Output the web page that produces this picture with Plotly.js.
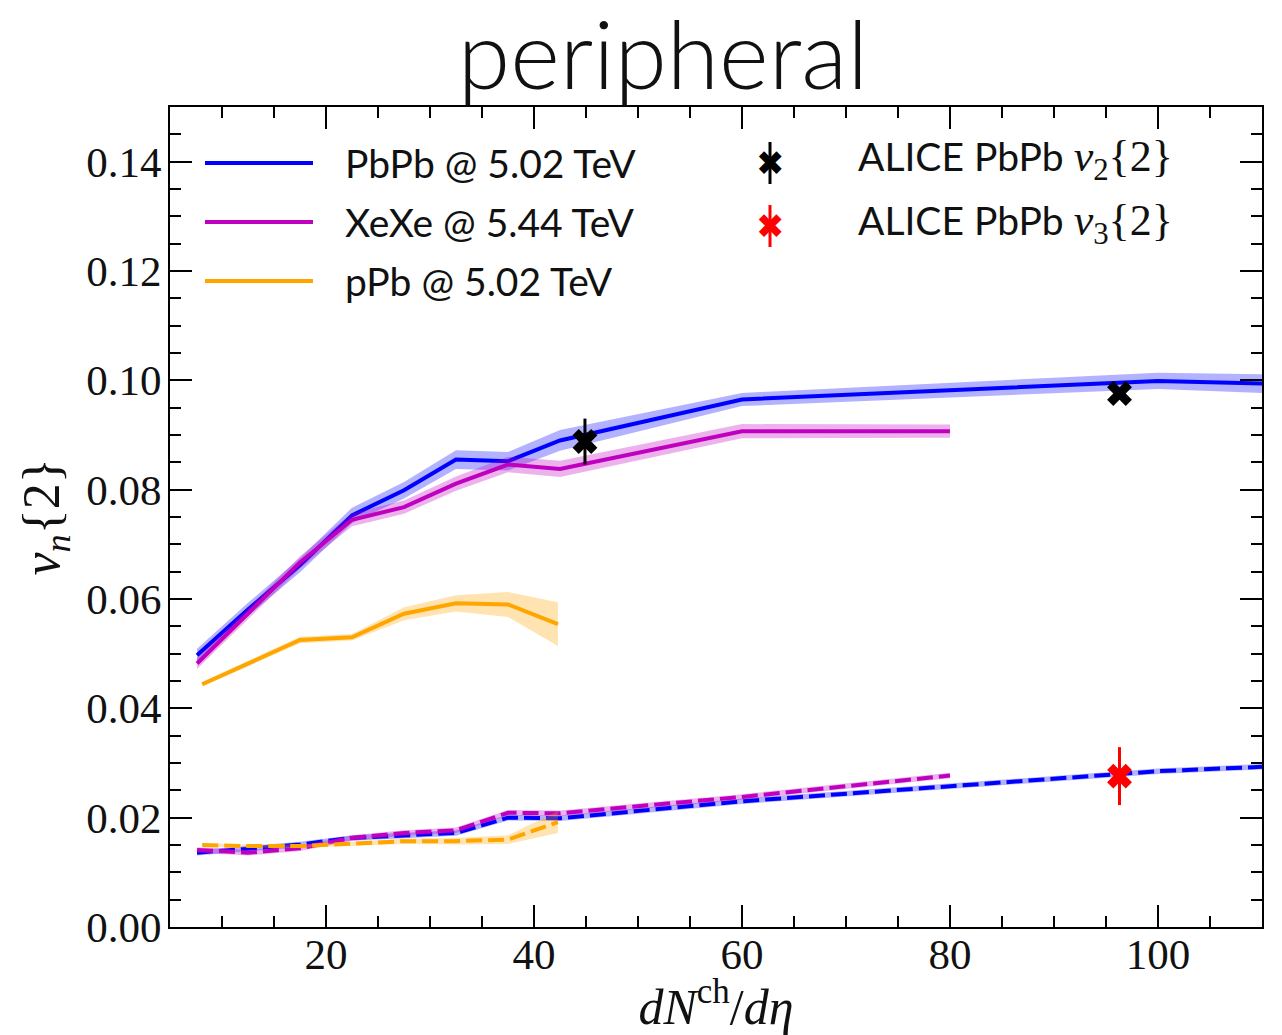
<!DOCTYPE html>
<html>
<head>
<meta charset="utf-8">
<script src="https://cdn.plot.ly/plotly-3.0.1.min.js"></script>
<style>html,body{margin:0;padding:0;background:#fff;}</style>
</head>
<body>
<div id="chart" style="width:1282px;height:1035px;"></div>
<script>
// ---- data ----
const xPbPb = [7.6, 12.5, 17.5, 22.5, 27.5, 32.5, 37.5, 42.5, 60, 100, 110];
const v2PbPb = [0.0497, 0.0581, 0.0662, 0.0753, 0.0799, 0.0855, 0.0852, 0.0890, 0.0965, 0.0999, 0.0994];
const v2PbPbErr = [0.0012, 0.0012, 0.0013, 0.0014, 0.0015, 0.0017, 0.0017, 0.0019, 0.0012, 0.0015, 0.0017];
const v3PbPb = [0.0136, 0.0143, 0.0151, 0.0163, 0.0168, 0.0172, 0.0200, 0.0199, 0.0230, 0.0285, 0.0293];
const v3PbPbErr = [0.0005, 0.0005, 0.0005, 0.0005, 0.0005, 0.0005, 0.0005, 0.0005, 0.0005, 0.0005, 0.0005];

const xXeXe = [7.6, 12.5, 17.5, 22.5, 27.5, 32.5, 37.5, 42.5, 60, 80];
const v2XeXe = [0.0482, 0.0573, 0.0667, 0.0745, 0.0768, 0.0811, 0.0846, 0.0838, 0.0907, 0.0907];
const v2XeXeErr = [0.0010, 0.0010, 0.0011, 0.0012, 0.0012, 0.0013, 0.0014, 0.0015, 0.0013, 0.0012];
const v3XeXe = [0.0141, 0.0136, 0.0144, 0.0163, 0.0172, 0.0177, 0.0209, 0.0208, 0.0238, 0.0277];
const v3XeXeErr = [0.0005, 0.0005, 0.0005, 0.0005, 0.0005, 0.0005, 0.0005, 0.0005, 0.0005, 0.0005];

const xpPb = [8.1, 12.5, 17.5, 22.5, 27.5, 32.5, 37.5, 42.3];
const v2pPb = [0.0444, 0.0482, 0.0525, 0.0530, 0.0573, 0.0592, 0.0590, 0.0554];
const v2pPbErr = [0.0004, 0.0005, 0.0006, 0.0006, 0.0012, 0.0015, 0.0023, 0.0040];
const v3pPb = [0.0150, 0.0148, 0.0148, 0.0153, 0.0157, 0.0157, 0.0160, 0.0192];
const v3pPbErr = [0.0003, 0.0003, 0.0003, 0.0004, 0.0005, 0.0006, 0.0008, 0.0020];

const xAliceV2 = [44.9, 96.3];
const aliceV2 = [0.0888, 0.0976];
const aliceV2Err = [0.0042, 0.0010];
const xAliceV3 = [96.3];
const aliceV3 = [0.0276];
const aliceV3Err = [0.0053];

const seriesNames = ['PbPb @ 5.02 TeV', 'XeXe @ 5.44 TeV', 'pPb @ 5.02 TeV'];
const aliceNames = ['ALICE PbPb <span style="font-family:\'Liberation Serif\';font-size:44px"><i>v</i><sub>2</sub>{2}</span>',
                    'ALICE PbPb <span style="font-family:\'Liberation Serif\';font-size:44px"><i>v</i><sub>3</sub>{2}</span>'];

// ---- styles ----
const BLUE = '#0000ff', MAG = '#bf00bf', ORG = '#ffa500';
const BLUE_F = 'rgba(0,0,255,0.3)', MAG_F = 'rgba(191,0,191,0.3)', ORG_F = 'rgba(255,165,0,0.3)';

function band(x, y, e, fill) {
  const xs = x.concat(x.slice().reverse());
  const ys = y.map((v, i) => v + e[i]).concat(y.map((v, i) => v - e[i]).reverse());
  return {x: xs, y: ys, type: 'scatter', mode: 'lines', fill: 'toself', fillcolor: fill,
          line: {width: 0}, hoverinfo: 'skip', showlegend: false};
}
function line(x, y, color, dash) {
  return {x: x, y: y, type: 'scatter', mode: 'lines',
          line: {color: color, width: 4, dash: dash || 'solid'}, showlegend: false};
}

const traces = [
  band(xPbPb, v2PbPb, v2PbPbErr, BLUE_F), line(xPbPb, v2PbPb, BLUE),
  band(xXeXe, v2XeXe, v2XeXeErr, MAG_F), line(xXeXe, v2XeXe, MAG),
  band(xpPb, v2pPb, v2pPbErr, ORG_F), line(xpPb, v2pPb, ORG),
  band(xPbPb, v3PbPb, v3PbPbErr, BLUE_F), line(xPbPb, v3PbPb, BLUE, '16px,6px'),
  band(xXeXe, v3XeXe, v3XeXeErr, MAG_F), line(xXeXe, v3XeXe, MAG, '16px,6px'),
  band(xpPb, v3pPb, v3pPbErr, ORG_F), line(xpPb, v3pPb, ORG, '16px,6px'),
  {x: xAliceV2, y: aliceV2, type: 'scatter', mode: 'markers', showlegend: false,
   marker: {symbol: 'x', size: 22, color: 'black'},
   error_y: {type: 'data', array: aliceV2Err, visible: true, thickness: 3, width: 0, color: 'black'}},
  {x: xAliceV3, y: aliceV3, type: 'scatter', mode: 'markers', showlegend: false,
   marker: {symbol: 'x', size: 22, color: 'red'},
   error_y: {type: 'data', array: aliceV3Err, visible: true, thickness: 3, width: 0, color: 'red'}}
];

// ---- manual legend (paper coordinates) ----
const W = 1282, H = 1035, L = 170, R = 20, T = 107, B = 108;
const pw = W - L - R, ph = H - T - B;
const px = v => (v - L) / pw;
const py = v => (H - B - v) / ph;
const legColors = [BLUE, MAG, ORG];
const legY = [163, 222, 281];
const shapes = [], annotations = [];
legColors.forEach((c, i) => {
  shapes.push({type: 'line', xref: 'paper', yref: 'paper', x0: px(205), x1: px(313),
               y0: py(legY[i]), y1: py(legY[i]), line: {color: c, width: 4}});
  annotations.push({xref: 'paper', yref: 'paper', x: px(343), y: py(legY[i]), xanchor: 'left', yanchor: 'middle',
                    text: seriesNames[i], showarrow: false, font: {family: 'Lato', size: 39, color: '#111'}});
});
const mkColors = ['black', 'red'];
const mkY = [163, 226];
mkColors.forEach((c, i) => {
  shapes.push({type: 'line', xref: 'paper', yref: 'paper', x0: px(770), x1: px(770),
               y0: py(mkY[i] - 21), y1: py(mkY[i] + 21), line: {color: c, width: 3}});
  annotations.push({xref: 'paper', yref: 'paper', x: px(770), y: py(mkY[i]), xanchor: 'center', yanchor: 'middle',
                    text: '\u2716', showarrow: false, font: {family: 'DejaVu Sans', size: 34, color: c}});
  annotations.push({xref: 'paper', yref: 'paper', x: px(856), y: py(mkY[i] - 3), xanchor: 'left', yanchor: 'middle',
                    text: aliceNames[i], showarrow: false, font: {family: 'Lato', size: 39, color: '#111'}});
});

const axisCommon = {
  showgrid: false, zeroline: false, showline: true, linecolor: 'black', linewidth: 2,
  mirror: 'allticks', ticks: 'inside', ticklen: 22, tickwidth: 2, tickcolor: 'black',
  tickfont: {family: 'Liberation Serif', size: 43, color: '#111'}
};

const layout = {
  width: W, height: H,
  margin: {l: L, r: R, t: T, b: B, pad: 0},
  paper_bgcolor: 'white', plot_bgcolor: 'white',
  showlegend: false,
  title: {text: 'peripheral', x: 663 / W, xanchor: 'center', xref: 'container',
          y: 1 - 56 / H, yanchor: 'middle', yref: 'container',
          font: {family: 'Lato', weight: 300, size: 95, color: '#111'}},
  xaxis: Object.assign({}, axisCommon, {
    range: [5, 110], tick0: 0, dtick: 20, tickangle: 0, ticklabelstandoff: -12,
    minor: {dtick: 5, tick0: 0, ticklen: 11, tickwidth: 2, ticks: 'inside', tickcolor: 'black'},
    title: {text: '<i>dN</i><sup>ch</sup>/<i>d\u03b7</i>', standoff: 0,
            font: {family: 'Liberation Serif', size: 50, color: '#111'}}
  }),
  yaxis: Object.assign({}, axisCommon, {
    range: [0, 0.15], tick0: 0, dtick: 0.02, tickformat: '.2f', ticklabelstandoff: -2,
    minor: {dtick: 0.005, tick0: 0, ticklen: 11, tickwidth: 2, ticks: 'inside', tickcolor: 'black'},
    title: {text: '<i>v<sub>n</sub></i>{2}', standoff: 10,
            font: {family: 'Liberation Serif', size: 52, color: '#111'}}
  }),
  shapes: shapes,
  annotations: annotations
};

Plotly.newPlot('chart', traces, layout, {displayModeBar: false, staticPlot: true});
</script>
</body>
</html>
